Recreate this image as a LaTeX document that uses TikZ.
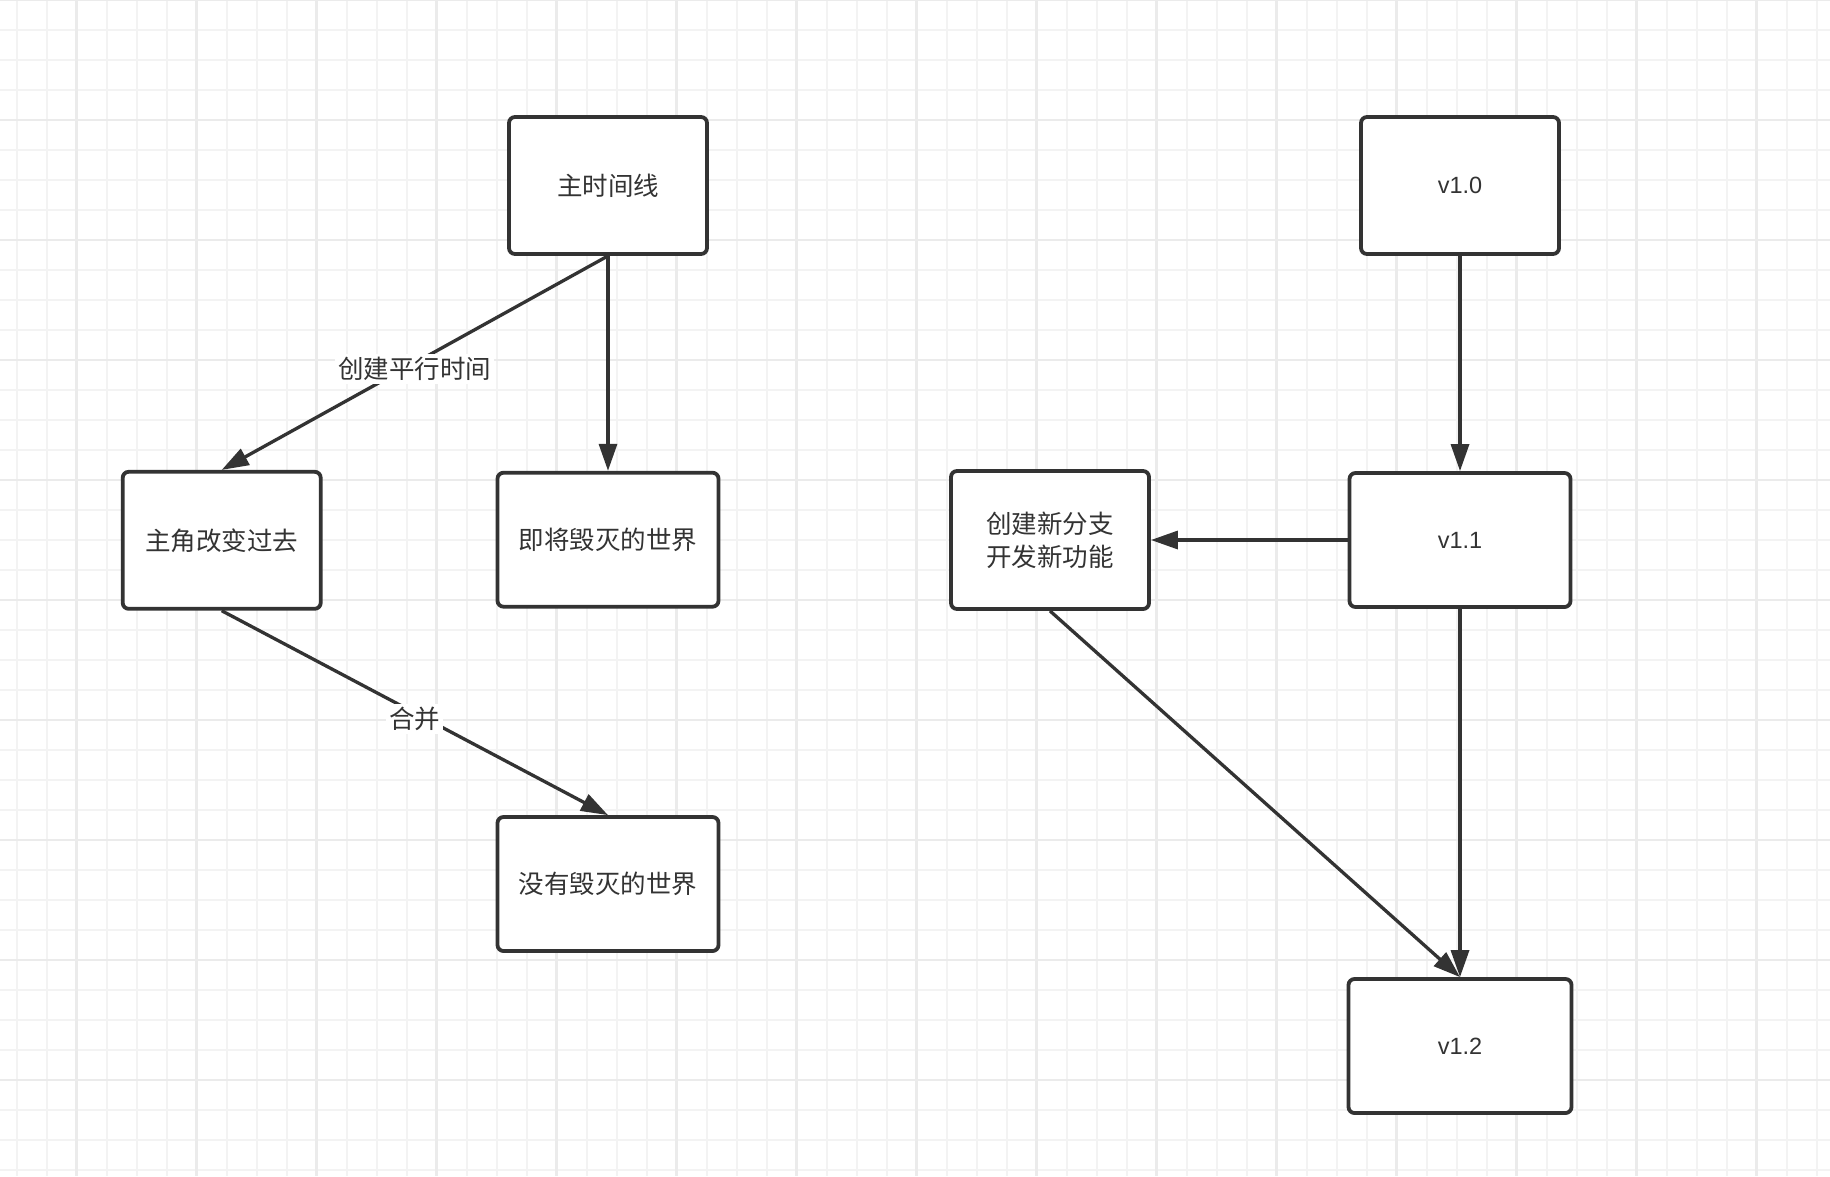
\documentclass[tikz,border=0pt]{standalone}
\usepackage{fontspec}
\setmainfont{Noto Sans CJK SC}
\newfontfamily\latf{Liberation Sans}
\usetikzlibrary{arrows.meta}
\definecolor{ink}{HTML}{333333}
\definecolor{gridminor}{HTML}{F3F3F3}
\definecolor{gridmajor}{HTML}{EBEBEB}
\begin{document}
\begin{tikzpicture}[x=1pt,y=-1pt,
  box/.style={draw=ink, line width=3.8pt, rounded corners=6pt, fill=white,
    inner sep=0pt, text=ink, font=\fontsize{25.5}{33}\selectfont, align=center},
  vbox/.style={box, font=\latf\fontsize{23.5}{26}\selectfont},
  conn/.style={draw=ink, line width=3.3pt, -{Triangle[length=27pt,width=18pt]}},
  lbl/.style={fill=white, text=ink, font=\fontsize{25.5}{28}\selectfont, inner sep=3pt, yshift=-6pt}]
\useasboundingbox (0,0) rectangle (1830,1176);
\fill[white] (0,0) rectangle (1830,1176);
% grid
\begin{scope}
\clip (0,0) rectangle (1830,1176);
\foreach \gx in {0,...,61} {\draw[gridminor, line width=2pt] (16.7+30*\gx,0) -- (16.7+30*\gx,1176);}
\foreach \gy in {0,...,39} {\draw[gridminor, line width=2pt] (0,30*\gy) -- (1830,30*\gy);}
\foreach \gx in {0,...,15} {\draw[gridmajor, line width=2.5pt] (76.7+120*\gx,0) -- (76.7+120*\gx,1176);}
\foreach \gy in {0,...,9} {\draw[gridmajor, line width=2.5pt] (0,120*\gy) -- (1830,120*\gy);}
\end{scope}
% nodes left
\node[box, minimum width=198, minimum height=137] (main) at (608,185.5) {主时间线};
\node[box, minimum width=198, minimum height=137] (hero) at (221.7,540.3) {主角改变过去};
\node[box, minimum width=221, minimum height=134] (doom) at (608,539.7) {即将毁灭的世界};
\node[box, minimum width=221, minimum height=134] (safe) at (608,884) {没有毁灭的世界};
% nodes right
\node[vbox, minimum width=198, minimum height=137] (v10) at (1460,185.5) {v1.0};
\node[box, minimum width=198, minimum height=138] (branch) at (1050,540) {创建新分支\\开发新功能};
\node[vbox, minimum width=221, minimum height=134] (v11) at (1460,540) {v1.1};
\node[vbox, minimum width=223, minimum height=134] (v12) at (1460,1046) {v1.2};
% connectors left
\draw[conn] (main.south) -- node[lbl, pos=0.5] {创建平行时间} (hero.north);
\draw[conn] (main.south) -- (doom.north);
\draw[conn] (hero.south) -- node[lbl, pos=0.5] {合并} (safe.north);
% connectors right
\draw[conn] (v10.south) -- (v11.north);
\draw[conn] (v11.west) -- (branch.east);
\draw[conn] (v11.south) -- (v12.north);
\draw[conn] (branch.south) -- (v12.north);
\end{tikzpicture}
\end{document}
